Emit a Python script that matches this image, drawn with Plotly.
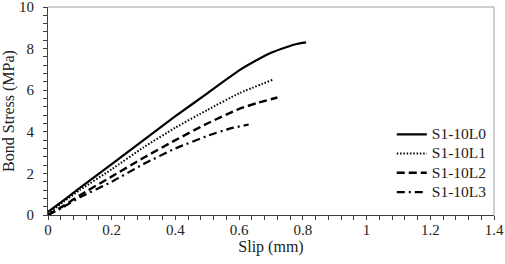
import plotly.graph_objects as go

# Data
slip_L0 = [0.0, 0.05, 0.1, 0.2, 0.3, 0.4, 0.5, 0.6, 0.65, 0.7, 0.75, 0.78, 0.81]
stress_L0 = [0.15, 0.72, 1.3, 2.45, 3.6, 4.75, 5.85, 6.95, 7.4, 7.8, 8.08, 8.22, 8.3]

slip_L1 = [0.0, 0.05, 0.1, 0.2, 0.3, 0.4, 0.5, 0.6, 0.705]
stress_L1 = [0.05, 0.65, 1.2, 2.2, 3.25, 4.2, 5.05, 5.85, 6.5]

slip_L2 = [0.0, 0.05, 0.1, 0.2, 0.3, 0.4, 0.5, 0.6, 0.66, 0.72]
stress_L2 = [0.0, 0.45, 0.95, 1.85, 2.75, 3.6, 4.4, 5.1, 5.4, 5.65]

slip_L3 = [0.0, 0.05, 0.1, 0.2, 0.3, 0.4, 0.5, 0.57, 0.63]
stress_L3 = [0.0, 0.4, 0.85, 1.6, 2.45, 3.2, 3.8, 4.15, 4.35]

names = ["S1-10L0", "S1-10L1", "S1-10L2", "S1-10L3"]
dashes = ["solid", "1.5px,1.8px", "8px,4px", "8px,4px,2px,4px"]
widths = [2.2, 2, 2.4, 2.2]

FONT = "Liberation Serif"

fig = go.Figure()
for xs, ys, nm, ds, w in zip(
    [slip_L0, slip_L1, slip_L2, slip_L3],
    [stress_L0, stress_L1, stress_L2, stress_L3],
    names, dashes, widths):
    fig.add_trace(go.Scatter(x=xs, y=ys, mode="lines",
                             name='<span style="font-size:15.5px">' + nm + '</span>',
                             line=dict(color="black", width=w, dash=ds, shape="spline", smoothing=0.5)))

axis_common = dict(
    showgrid=False, zeroline=False, showline=True, linecolor="#404040", linewidth=1,
    ticks="outside", ticklen=4, tickcolor="#404040", tickwidth=1,
    tickfont=dict(family=FONT, size=15, color="#222"),
    automargin=False, ticklabeloverflow="allow",
)

fig.update_xaxes(range=[0, 1.4], dtick=0.2, tick0=0, ticklabelstandoff=-3,
                 minor=dict(dtick=0.04, ticks="outside", ticklen=4, tickcolor="#404040"),
                 title=dict(text="Slip (mm)", font=dict(family=FONT, size=16, color="#222"), standoff=0),
                 **axis_common)
fig.update_yaxes(range=[0, 10], dtick=2, tick0=0, ticklabelstandoff=6,
                 minor=dict(dtick=0.4, ticks="outside", ticklen=4, tickcolor="#404040"),
                 title=dict(text="Bond Stress (MPa)", font=dict(family=FONT, size=16, color="#222"), standoff=0),
                 **axis_common)

# light frame on top and right
fig.add_shape(type="line", xref="paper", yref="paper", x0=0, x1=1, y0=1, y1=1,
              line=dict(color="#a0a0a0", width=1))
fig.add_shape(type="line", xref="paper", yref="paper", x0=1, x1=1, y0=0, y1=1,
              line=dict(color="#a0a0a0", width=1))

fig.update_layout(
    width=505, height=264,
    margin=dict(l=48, r=11, t=7, b=49, autoexpand=False),
    paper_bgcolor="white", plot_bgcolor="white",
    font=dict(family=FONT, color="#222"),
    legend=dict(x=0.995, xanchor="right", y=0.04, yanchor="bottom",
                bgcolor="rgba(0,0,0,0)", font=dict(family=FONT, size=12.5, color="#222"),
                itemwidth=30, tracegroupgap=0),
    showlegend=True,
)

fig.write_html("out.html", config={"displayModeBar": False},
               post_script="document.body.style.margin='0';document.body.style.overflow='hidden';")
